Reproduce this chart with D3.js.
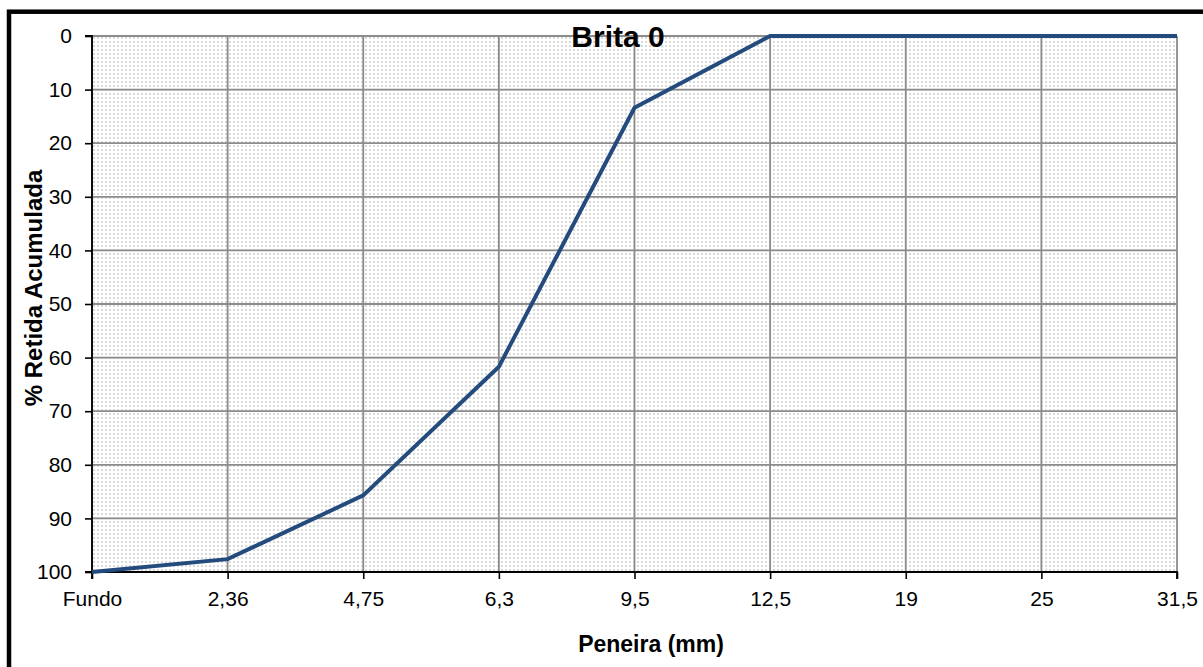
<!DOCTYPE html>
<html>
<head>
<meta charset="utf-8">
<script src="https://cdn.jsdelivr.net/npm/d3@7"></script>
<style>
    body { margin: 0; background: #fff; }
    text { font-family: "Liberation Sans", Arial, sans-serif; }
</style>
</head>
<body>
<div id="content"></div>
<script>
// peneiras (mm) e % retida acumulada
const sieves = ['Fundo', '2,36', '4,75', '6,3', '9,5', '12,5', '19', '25', '31,5'];
const retained = [100, 97.6, 85.7, 61.7, 13.4, 0, 0, 0, 0];
const yTicks = [0, 10, 20, 30, 40, 50, 60, 70, 80, 90, 100];

const chartTitle = 'Brita 0';
const xTitle = 'Peneira (mm)';
const yTitle = '% Retida Acumulada';

const W = 1203, H = 667;
const margin = {top: 36, right: 26, bottom: 95, left: 92},
    width = W - margin.left - margin.right,
    height = H - margin.top - margin.bottom;

const svg = d3.select('#content').append('svg')
    .attr('width', W)
    .attr('height', H);

// outer frame
svg.append('rect')
    .attr('x', 9).attr('y', 11.7)
    .attr('width', W + 20).attr('height', H + 20)
    .attr('fill', 'none')
    .attr('stroke', '#000')
    .attr('stroke-width', 4.5);

// dotted plot background
const pat = svg.append('defs').append('pattern')
    .attr('id', 'dots')
    .attr('patternUnits', 'userSpaceOnUse')
    .attr('width', 4).attr('height', 4);
pat.append('rect').attr('width', 4).attr('height', 4).attr('fill', '#fff');
pat.append('rect').attr('x', 1).attr('y', 1).attr('width', 2).attr('height', 2).attr('fill', '#dadada');

const g = svg.append('g')
    .attr('transform', 'translate(' + margin.left + ',' + margin.top + ')');

const xScale = d3.scalePoint().domain(sieves).range([0, width]);
const yScale = d3.scaleLinear().domain([0, 100]).range([0, height]);

g.append('rect')
    .attr('width', width).attr('height', height)
    .attr('fill', 'url(#dots)');

// grid
g.append('g')
    .selectAll('line.hgrid')
    .data(yTicks)
    .enter().append('line')
    .attr('x1', 0).attr('x2', width)
    .attr('y1', d => yScale(d)).attr('y2', d => yScale(d))
    .attr('stroke', '#8c8c8c')
    .attr('stroke-width', 1.8);

g.append('g')
    .selectAll('line.vgrid')
    .data(sieves)
    .enter().append('line')
    .attr('x1', d => xScale(d)).attr('x2', d => xScale(d))
    .attr('y1', 0).attr('y2', height)
    .attr('stroke', '#8c8c8c')
    .attr('stroke-width', 1.8);

// axes
const yAxis = d3.axisLeft(yScale).tickValues(yTicks).tickSize(7).tickPadding(13);
const xAxis = d3.axisBottom(xScale).tickSize(7).tickPadding(12);

const ya = g.append('g').attr('class', 'y axis').call(yAxis);
const xa = g.append('g').attr('class', 'x axis')
    .attr('transform', 'translate(0,' + height + ')')
    .call(xAxis);

[ya, xa].forEach(a => {
    a.select('.domain').attr('stroke', '#000').attr('stroke-width', 1.8);
    a.selectAll('.tick line').attr('stroke', '#000').attr('stroke-width', 1.6);
    a.selectAll('.tick text')
        .attr('fill', '#000')
        .style('font-size', '21px')
        .style('font-family', '"Liberation Sans", Arial, sans-serif');
});
ya.select('.domain').attr('d', 'M-7,0H0V' + height + 'H-7');
xa.select('.domain').attr('d', 'M0,7V0H' + width + 'V7');

// data line
g.append('path')
    .datum(sieves.map((s, i) => ({sieve: s, value: retained[i]})))
    .attr('fill', 'none')
    .attr('stroke', '#244b7d')
    .attr('stroke-width', 4)
    .attr('stroke-linejoin', 'miter')
    .attr('d', d3.line()
        .x(d => xScale(d.sieve))
        .y(d => yScale(d.value)));

// titles
svg.append('text')
    .attr('x', 618).attr('y', 46.5)
    .attr('text-anchor', 'middle')
    .style('font-size', '30px')
    .style('font-weight', 'bold')
    .text(chartTitle);

svg.append('text')
    .attr('x', 651).attr('y', 652)
    .attr('text-anchor', 'middle')
    .style('font-size', '23px')
    .style('font-weight', 'bold')
    .text(xTitle);

svg.append('text')
    .attr('transform', 'translate(42,288) rotate(-90)')
    .attr('text-anchor', 'middle')
    .style('font-size', '24px')
    .style('font-weight', 'bold')
    .text(yTitle);
</script>
</body>
</html>
